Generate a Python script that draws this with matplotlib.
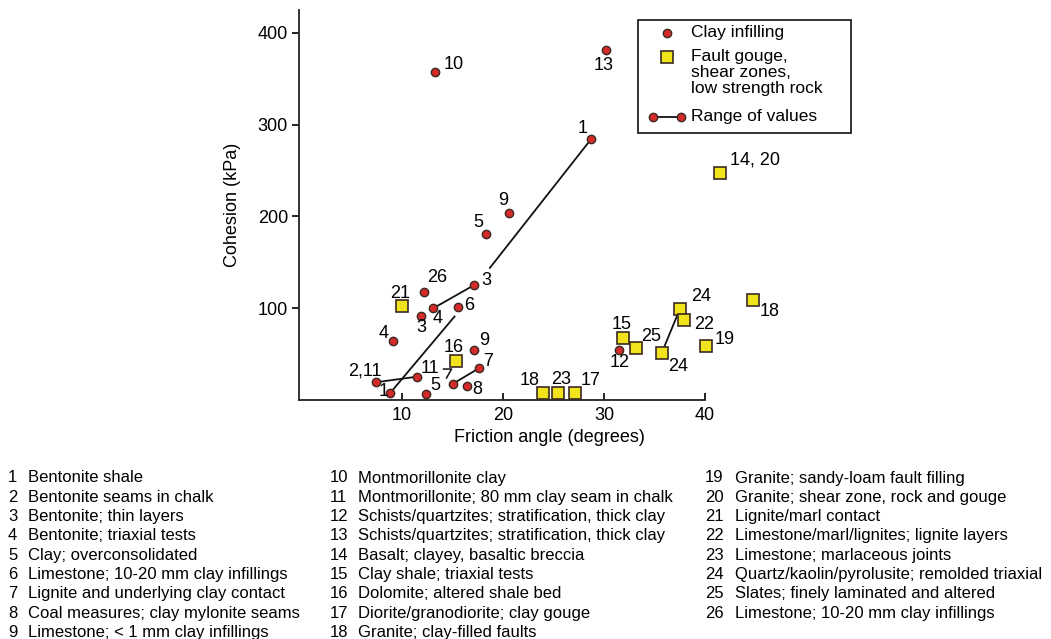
import matplotlib
matplotlib.use("Agg")
import matplotlib.pyplot as plt
from matplotlib.lines import Line2D
from matplotlib.patches import Rectangle

plt.rcParams['font.family'] = ['Liberation Sans', 'DejaVu Sans']

# Clay infilling points: friction angle (deg), cohesion (kPa), label
clay_phi = [13.3, 30.2, 28.7, 20.6, 18.3, 17.1, 13.1, 11.9, 12.2, 15.5,
            9.1, 17.1, 17.6, 15.0, 16.4, 12.4, 8.8, 7.4, 11.5, 31.5]
clay_c = [357, 381, 284, 204, 181, 125, 100, 92, 118, 101,
          64, 55, 34.5, 17.4, 15.6, 6.2, 7.3, 19.3, 25.4, 55]
clay_labels = ['10', '13', '1', '9', '5', '3', '', '3', '26', '6',
               '4', '9', '7', '', '8', '5', '1', '2,11', '11', '12']

# Fault gouge / shear zone points
fault_phi = [10.0, 15.3, 24.0, 25.4, 27.1, 31.9, 33.2, 35.7, 37.5, 37.9, 40.1, 44.7, 41.5]
fault_c = [102, 42.5, 8, 8, 8, 68, 57, 51, 99, 87, 59, 109, 247]
fault_labels = ['21', '16', '18', '23', '17', '15', '25', '24', '24', '22', '19', '18', '14, 20']

# Ranges of values (start and end of each line)
range_phi = [(18.7, 28.7), (8.8, 15.2), (13.1, 17.1), (7.4, 11.5), (15.0, 17.6), (35.7, 37.5)]
range_c = [(144, 284), (7.3, 91), (100, 125), (19.3, 25.4), (17.4, 34.5), (51, 99)]
range_labels = ['', '4', '', '', '', '']

# Legend entries
legend_labels = ['Clay infilling', ['Fault gouge,', 'shear zones,', 'low strength rock'],
                 'Range of values']

# Key to numbered cases
key_col1 = ["Bentonite shale", "Bentonite seams in chalk", "Bentonite; thin layers",
            "Bentonite; triaxial tests", "Clay; overconsolidated",
            "Limestone; 10-20 mm clay infillings", "Lignite and underlying clay contact",
            "Coal measures; clay mylonite seams", "Limestone; < 1 mm clay infillings"]
key_col2 = ["Montmorillonite clay", "Montmorillonite; 80 mm clay seam in chalk",
            "Schists/quartzites; stratification, thick clay",
            "Schists/quartzites; stratification, thick clay",
            "Basalt; clayey, basaltic breccia", "Clay shale; triaxial tests",
            "Dolomite; altered shale bed", "Diorite/granodiorite; clay gouge",
            "Granite; clay-filled faults"]
key_col3 = ["Granite; sandy-loam fault filling", "Granite; shear zone, rock and gouge",
            "Lignite/marl contact", "Limestone/marl/lignites; lignite layers",
            "Limestone; marlaceous joints",
            "Quartz/kaolin/pyrolusite; remolded triaxial",
            "Slates; finely laminated and altered", "Limestone; 10-20 mm clay infillings"]

RED = '#d42a2a'
YEL = '#f1e41c'
EDGE = '#3a2a20'
FS = 13
W, H = 1051, 639

fig = plt.figure(figsize=(W / 100, H / 100), dpi=100)
ax = fig.add_axes([299 / W, 1 - 400 / H, 501 / W, 390 / H])
ax.set_xlim(-0.2, 49.4)
ax.set_ylim(0, 425)

for s in ('top', 'right'):
    ax.spines[s].set_visible(False)
ax.spines['bottom'].set_bounds(-0.2, 40)
for s in ('bottom', 'left'):
    ax.spines[s].set_linewidth(1.3)
    ax.spines[s].set_color('#222222')

ax.set_xticks([10, 20, 30, 40])
ax.set_yticks([100, 200, 300, 400])
ax.tick_params(axis='x', direction='in', length=5, width=1.2, labelsize=FS, pad=5)
ax.tick_params(axis='y', direction='out', length=5, width=1.2, labelsize=FS, pad=3)
ax.set_xlabel('Friction angle (degrees)', fontsize=FS, labelpad=4)
ax.set_ylabel('Cohesion (kPa)', fontsize=FS, labelpad=12)

# range lines
for (x0, x1), (y0, y1) in zip(range_phi, range_c):
    ax.plot([x0, x1], [y0, y1], color='#111111', lw=1.3, zorder=2)

ax.plot(clay_phi, clay_c, 'o', ms=6, mfc=RED, mec=EDGE, mew=1.0, zorder=3)
ax.plot(fault_phi, fault_c, 's', ms=9, mfc=YEL, mec=EDGE, mew=1.2, zorder=3)

# label offsets in pixels (dx, dy) from each marker
clay_off = [(18, 8), (-2, -15), (-8, 11), (-6, 12), (-8, 11), (13, 5), (0, 0), (0, -12),
            (13, 14), (12, 2), (-9, 8), (10, 9), (9, 7), (0, 0), (11, -4), (9, 9),
            (-6, 2), (-11, 11), (13, 8), (0, -13)]
fault_off = [(-2, 13), (-2, 14), (-14, 12), (4, 13), (16, 12), (-2, 13), (15, 11),
             (17, -13), (21, 13), (20, -4), (19, 6), (17, -12), (35, 13)]


def put(x, y, txt, off):
    if txt:
        ax.annotate(txt, (x, y), xytext=off, textcoords='offset pixels',
                    ha='center', va='center', fontsize=FS, zorder=4)


for x, y, t, o in zip(clay_phi, clay_c, clay_labels, clay_off):
    put(x, y, t, o)
for x, y, t, o in zip(fault_phi, fault_c, fault_labels, fault_off):
    put(x, y, t, o)
for (x0, x1), (y0, y1), t in zip(range_phi, range_c, range_labels):
    put(x1, y1, t, (-17, -2))

# leader from the "11" label to the start of range 7
lx, ly = clay_phi[13], clay_c[13]
p0 = ax.transData.transform((lx, ly))
ax.add_line(Line2D([p0[0] - 9, p0[0] - 1, p0[0] - 6], [p0[1] + 15, p0[1] + 15, p0[1] + 6],
                   transform=None, color='#111111', lw=1.1, zorder=4))


# legend box, drawn in figure pixel coordinates (y measured from top)
def fx(px):
    return px / W


def fy(py):
    return 1 - py / H


fig.add_artist(Rectangle((fx(638), fy(133)), fx(851) - fx(638), fy(20) - fy(133),
                         transform=fig.transFigure, fill=True, facecolor='white',
                         edgecolor='#222222', lw=1.3, zorder=5))
LFS = 12.5
TX = 691
fig.add_artist(Line2D([fx(667)], [fy(33)], ls='none', marker='o', ms=6, mfc=RED, mec=EDGE,
                      transform=fig.transFigure, zorder=6))
fig.text(fx(TX), fy(33), legend_labels[0], fontsize=LFS, va='center', ha='left', zorder=6)
fig.add_artist(Line2D([fx(667)], [fy(57)], ls='none', marker='s', ms=9, mfc=YEL, mec=EDGE,
                      mew=1.2, transform=fig.transFigure, zorder=6))
for i, line in enumerate(legend_labels[1]):
    fig.text(fx(TX), fy(56 + 16.3 * i), line, fontsize=LFS, va='center', ha='left', zorder=6)
fig.add_artist(Line2D([fx(653), fx(681)], [fy(117), fy(117)], color='#111111', lw=1.3,
                      marker='o', ms=6, mfc=RED, mec=EDGE, transform=fig.transFigure, zorder=6))
fig.text(fx(TX), fy(117), legend_labels[2], fontsize=LFS, va='center', ha='left', zorder=6)

# key text
KFS = 12
dy = 19.3
for col, (nx, tx, start) in enumerate([(8, 28, 1), (330, 358, 10), (705, 735, 19)]):
    items = [key_col1, key_col2, key_col3][col]
    for i, txt in enumerate(items):
        y = fy(478 + i * dy)
        fig.text(fx(nx), y, str(start + i), fontsize=KFS, va='center', ha='left')
        fig.text(fx(tx), y, txt, fontsize=KFS, va='center', ha='left')

fig.savefig('out.png', dpi=100)
